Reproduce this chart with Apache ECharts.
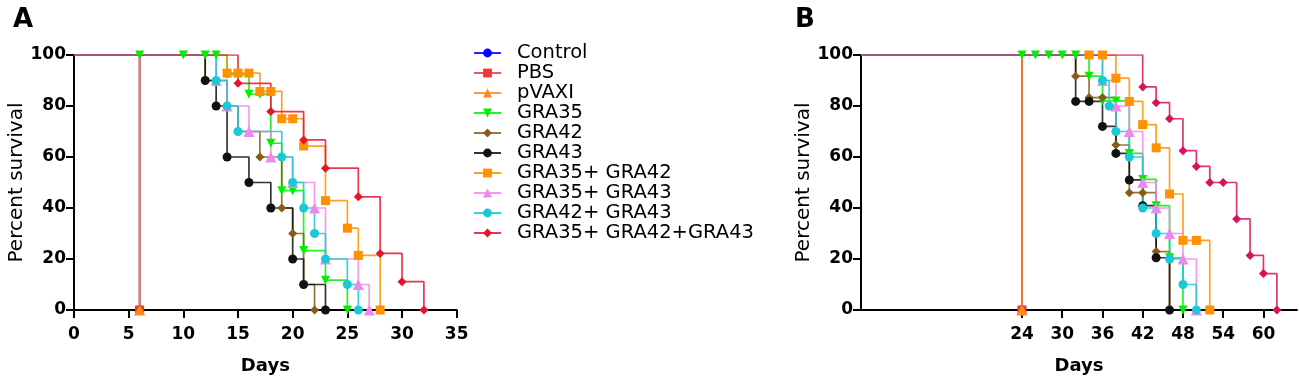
<!DOCTYPE html>
<html>
<head>
<meta charset="utf-8">
<script src="https://cdn.jsdelivr.net/npm/echarts@6/dist/echarts.min.js"></script>
<style>
html,body{margin:0;padding:0;background:#fff;}
#main{width:1299px;height:381px;}
</style>
</head>
<body>
<div id="main"></div>
<script>
// group names, same order as the legend
var groupNames = ['Control','PBS','pVAXI','GRA35','GRA42','GRA43','GRA35+ GRA42','GRA35+ GRA43','GRA42+ GRA43','GRA35+ GRA42+GRA43'];
var groupColors = ['#0000ff','#f2353a','#ff8c1a','#00f000','#8b5a17','#111111','#ff9000','#ee88ee','#19c9d6','#e8142e'];
var groupSymbols = ['circle','rect','triangle','path://M0,0 L10,0 L5,9 Z','diamond','circle','rect','triangle','circle','diamond'];

// panel A : [day, percent survival]
var A_control = [[0,100],[6,0]];
var A_pbs = [[0,100],[6,0]];
var A_pvaxi = [[0,100],[6,0]];
var A_gra35 = [[0,100],[6,100],[10,100],[12,100],[13,100],[14,92.3],[15,92.3],[16,84.6],[17,84.6],[18,65.4],[19,46.8],[20,46.8],[21,23.3],[23,11.7],[25,0]];
var A_gra42 = [[0,100],[12,90],[14,80],[15,70],[17,60],[19,40],[20,30],[21,10],[22,0]];
var A_gra43 = [[0,100],[12,90],[13,80],[14,60],[16,50],[18,40],[20,20],[21,10],[23,0]];
var A_gra35_42 = [[0,100],[14,92.9],[15,92.9],[16,92.9],[17,85.7],[18,85.7],[19,75],[20,75],[21,64.3],[23,42.9],[25,32.1],[26,21.4],[28,0]];
var A_gra35_43 = [[0,100],[13,90],[14,80],[16,70],[18,60],[20,50],[22,40],[23,20],[26,10],[27,0]];
var A_gra42_43 = [[0,100],[13,90],[14,80],[15,70],[19,60],[20,50],[21,40],[22,30],[23,20],[25,10],[26,0]];
var A_gra35_42_43 = [[0,100],[15,88.9],[18,77.8],[21,66.7],[23,55.6],[26,44.4],[28,22.2],[30,11.1],[32,0]];

// panel B
var B_control = [[0,100],[24,0]];
var B_pbs = [[0,100],[24,0]];
var B_pvaxi = [[0,100],[24,0]];
var B_gra35 = [[0,100],[24,100],[26,100],[28,100],[30,100],[32,100],[34,91.7],[36,82],[38,82],[40,61.4],[42,51.2],[44,40.9],[46,20.5],[48,0]];
var B_gra42 = [[0,100],[32,91.7],[34,83.3],[36,83.3],[38,64.7],[40,46],[42,46],[44,22.9],[46,0]];
var B_gra43 = [[0,100],[32,81.8],[34,81.8],[36,72],[38,61.4],[40,51],[42,40.9],[44,20.5],[46,0]];
var B_gra35_42 = [[0,100],[34,100],[36,100],[38,90.9],[40,81.8],[42,72.7],[44,63.6],[46,45.5],[48,27.3],[50,27.3],[52,0]];
var B_gra35_43 = [[0,100],[36,90],[38,80],[40,70],[42,50],[44,40],[46,30],[48,20],[50,0]];
var B_gra42_43 = [[0,100],[36,90],[37,80],[38,70],[40,60],[42,40],[44,30],[46,20],[48,10],[50,0]];
var B_gra35_42_43 = [[0,100],[42,87.5],[44,81.3],[46,75],[48,62.5],[50,56.3],[52,50],[54,50],[56,35.7],[58,21.4],[60,14.3],[62,0]];

var panelA = [A_control,A_pbs,A_pvaxi,A_gra35,A_gra42,A_gra43,A_gra35_42,A_gra35_43,A_gra42_43,A_gra35_42_43];
var panelB = [B_control,B_pbs,B_pvaxi,B_gra35,B_gra42,B_gra43,B_gra35_42,B_gra35_43,B_gra42_43,B_gra35_42_43];

var yTicks = [0,20,40,60,80,100];
var bDayTicks = [24,30,36,42,48,54,60];

var FONT = 'DejaVu Sans';

function makeSeries(pts, i, axisIdx, color){
	var sz = groupSymbols[i]==='rect' ? 9 : (groupSymbols[i]==='triangle' ? 11 : 9);
	return {
		name: groupNames[i],
		type: 'line',
		step: 'end',
		xAxisIndex: axisIdx,
		yAxisIndex: axisIdx,
		symbol: groupSymbols[i],
		symbolSize: sz,
		showAllSymbol: true,
		animation: false,
		itemStyle: { color: color },
		lineStyle: { color: color, width: 1.7, opacity: 0.85 },
		data: pts.map(function(p, k){
			return k===0 ? { value: p, symbol: 'none' } : p;
		})
	};
}

var series = [];
panelA.forEach(function(pts, i){ series.push(makeSeries(pts, i, 0, groupColors[i])); });
panelB.forEach(function(pts, i){
	var c = i===9 ? '#d6145c' : groupColors[i];
	series.push(makeSeries(pts, i, 1, c));
});

function yAxisCfg(idx){
	return {
		gridIndex: idx,
		type: 'value',
		min: 0, max: 100, interval: 20,
		name: 'Percent survival',
		nameLocation: 'middle',
		nameGap: 46,
		nameTextStyle: { fontFamily: FONT, fontSize: 20, color: '#000' },
		axisLine: { show: true, lineStyle: { color: '#000', width: 2 } },
		axisTick: { show: true, length: 8, lineStyle: { color: '#000', width: 2 } },
		axisLabel: { fontFamily: FONT, fontWeight: 'bold', fontSize: 17, color: '#000', margin: 8 },
		splitLine: { show: false }
	};
}

var option = {
	backgroundColor: '#fff',
	animation: false,
	title: [
		{ text: 'A', left: 8, top: 2, textStyle: { fontFamily: FONT, fontWeight: 'bold', fontSize: 26, color: '#000' } },
		{ text: 'B', left: 790, top: 2, textStyle: { fontFamily: FONT, fontWeight: 'bold', fontSize: 26, color: '#000' } }
	],
	legend: {
		orient: 'vertical',
		left: 468,
		top: 38,
		itemWidth: 27,
		itemHeight: 11,
		itemGap: 0,
		textStyle: { fontFamily: FONT, fontSize: 19.5, lineHeight: 14, color: '#000', padding: [0,0,0,11] },
		data: groupNames
	},
	grid: [
		{ left: 74, top: 55, width: 382.7, height: 255, outerBoundsMode: 'none' },
		{ left: 861, top: 55, width: 436, height: 255, outerBoundsMode: 'none' }
	],
	xAxis: [
		{
			gridIndex: 0, type: 'value', min: 0, max: 35, interval: 5,
			name: 'Days', nameLocation: 'middle', nameGap: 47,
			nameTextStyle: { fontFamily: FONT, fontWeight: 'bold', fontSize: 18, color: '#000' },
			axisLine: { show: true, onZero: false, lineStyle: { color: '#000', width: 2 } },
			axisTick: { show: true, length: 8, lineStyle: { color: '#000', width: 2 } },
			axisLabel: { fontFamily: FONT, fontWeight: 'bold', fontSize: 17, color: '#000', margin: 16 },
			splitLine: { show: false }
		},
		{
			gridIndex: 1, type: 'value', min: 0, max: 65,
			name: 'Days', nameLocation: 'middle', nameGap: 47,
			nameTextStyle: { fontFamily: FONT, fontWeight: 'bold', fontSize: 18, color: '#000' },
			axisLine: { show: true, onZero: false, lineStyle: { color: '#000', width: 2 } },
			axisTick: { show: true, length: 8, customValues: bDayTicks, lineStyle: { color: '#000', width: 2 } },
			axisLabel: { fontFamily: FONT, fontWeight: 'bold', fontSize: 17, color: '#000', margin: 16, customValues: bDayTicks },
			splitLine: { show: false }
		}
	],
	yAxis: [yAxisCfg(0), yAxisCfg(1)],
	series: series
};

var myChart = echarts.init(document.getElementById('main'));
myChart.setOption(option);
</script>
</body>
</html>
